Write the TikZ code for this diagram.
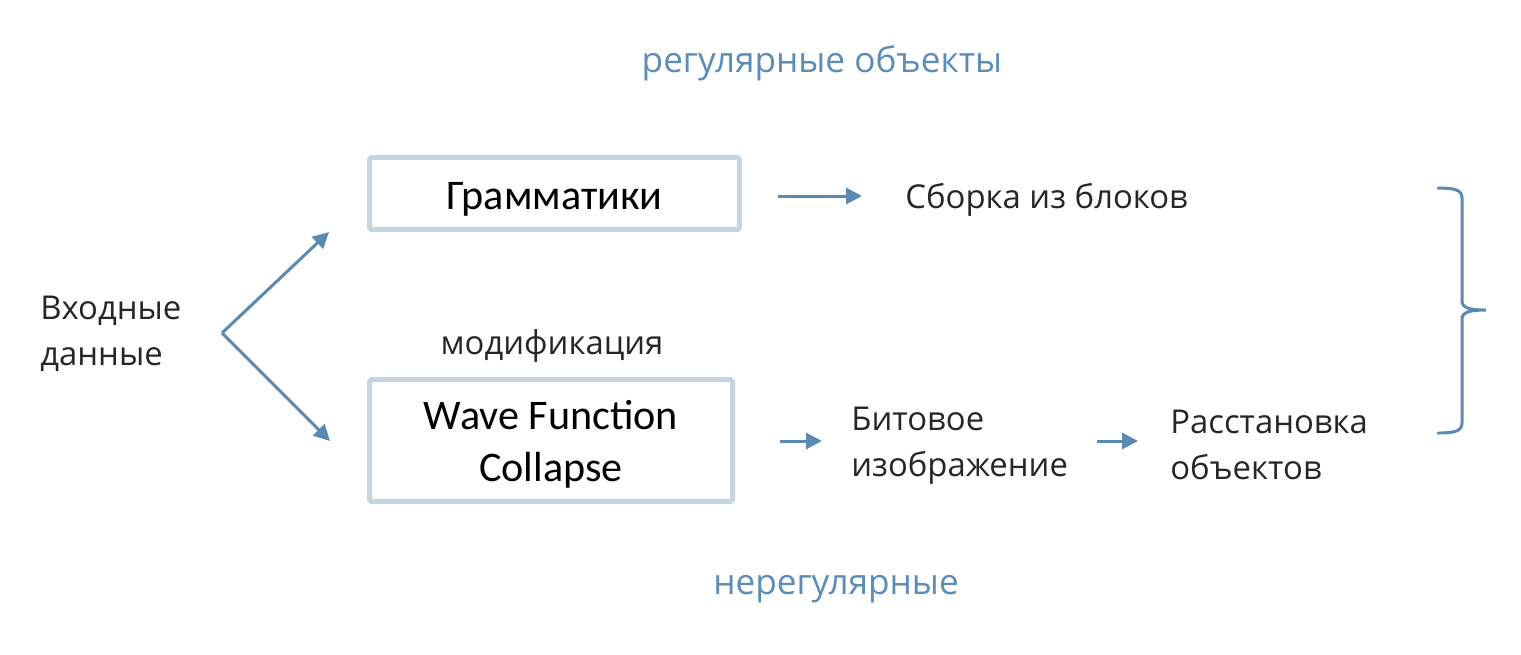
\documentclass[tikz,border=0pt]{standalone}
\usepackage{fontspec}
\setmainfont{Open Sans}
\newfontfamily\calibrifont{Carlito}
\usetikzlibrary{arrows.meta,positioning}
\definecolor{arrowblue}{HTML}{5A8AB1}
\definecolor{labelblue}{HTML}{5B8DB6}
\definecolor{frameblue}{HTML}{C5D6E2}
\definecolor{textgray}{HTML}{262626}
\tikzset{
  method/.style={draw=frameblue, line width=2.8pt, rounded corners=1pt, align=center, text=black, inner sep=0pt,
    font=\calibrifont\fontsize{24}{29.5}\selectfont},
  plain/.style={align=left, text=textgray, inner sep=0pt, font=\fontsize{18.7}{26}\selectfont},
  group/.style={text=labelblue, inner sep=0pt, font=\fontsize{20}{24}\selectfont},
  arr/.style={-{Triangle[length=0.32cm,width=0.32cm]}, line width=1.7pt, draw=arrowblue},
  bracket/.style={line width=1.7pt, draw=arrowblue, line cap=round}
}

\begin{document}
\begin{tikzpicture}[x=0.02cm, y=-0.02cm]
  \useasboundingbox (0,0) rectangle (1521,654);

  \node[group] (regular) at (822,63) {регулярные объекты};
  \node[group] (irregular) at (836,589) {нерегулярные};

  \node[plain, anchor=west] (input) at (40,334) {Входные\\данные};
  \coordinate (fork) at (222,333);

  \node[method, minimum width=7.4cm, minimum height=1.44cm, text height=18.7pt, text depth=0pt] (grammar) at (554.5,193.5) {Грамматики};
  \node[method, minimum width=7.26cm, minimum height=2.44cm, text height=47pt, text depth=0pt] (wfc) at (551,440.5) {Wave Function\\Collapse};
  \node[plain] (modif) at (552,346) {модификация};

  \coordinate (grammarin) at (329,232);
  \coordinate (wfcin) at (330,441);
  \draw[arr] (fork) -- (grammarin);
  \draw[arr] (fork) -- (wfcin);

  \node[plain, anchor=west] (assembly) at (905,200) {Сборка из блоков};
  \node[plain, anchor=west] (bitmap) at (851,446) {Битовое\\изображение};
  \node[plain, anchor=west] (placing) at (1170,445) {Расстановка\\объектов};

  \draw[arr, shorten <=0.72cm, shorten >=0.86cm] (grammar.east |- 0,196) -- (assembly.west |- 0,196);
  \draw[arr, shorten <=0.9cm, shorten >=0.58cm] (wfc.east |- 0,441) -- (bitmap.west |- 0,441);
  \draw[arr, shorten <=0.58cm, shorten >=0.64cm] (bitmap.east |- 0,441) -- (placing.west |- 0,441);

  % brace over both branches
  \coordinate (bracetop) at (1438,188);
  \coordinate (bracetip) at (1486,310);
  \coordinate (bracebot) at (1438,433);
  \draw[bracket] (bracetop) .. controls (1455,188) and (1462,190) .. (1462,198)
    -- (1462,301) .. controls (1462,308) and (1470,310) .. (bracetip)
    .. controls (1470,310) and (1462,312) .. (1462,319)
    -- (1462,423) .. controls (1462,431) and (1455,433) .. (bracebot);
\end{tikzpicture}
\end{document}
